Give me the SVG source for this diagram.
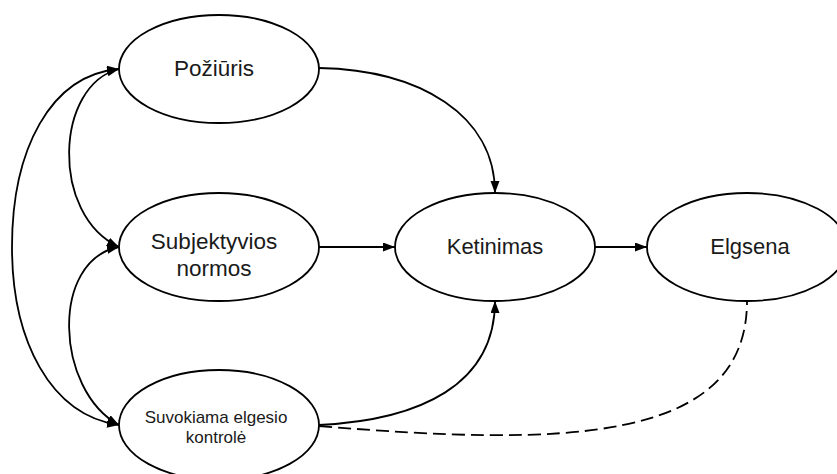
<svg xmlns="http://www.w3.org/2000/svg" width="837" height="474" viewBox="0 0 837 474">
<style>
.node ellipse{fill:#fff;stroke:#000;stroke-width:1.8}
.node text{font-family:"Liberation Sans",Arial,sans-serif;fill:#1a1a1a;text-anchor:middle}
.big{font-size:22px}
.mid{font-size:22.5px}
.small{font-size:17px}
.edge{fill:none;stroke:#000;stroke-width:1.8}
.dash{stroke-dasharray:13 6}
</style>
<defs>
<marker id="arr" markerUnits="userSpaceOnUse" markerWidth="14" markerHeight="10" refX="12" refY="4.5" orient="auto-start-reverse" viewBox="0 0 14 10">
<path d="M0,0 L12,4.5 L0,9 z" fill="#000"/>
</marker>
</defs>
<g id="connectors">
<path class="edge" d="M119,69 C50,75 12,150 12,247 C12,340 50,415 119,425" marker-start="url(#arr)" marker-end="url(#arr)"/>
<path class="edge" d="M119,69 C55,85 50,215 119,247" marker-start="url(#arr)" marker-end="url(#arr)"/>
<path class="edge" d="M119,247 C50,260 55,390 119,425" marker-start="url(#arr)" marker-end="url(#arr)"/>
<path class="edge" d="M319,68 C420,70 495,115 495,193" marker-end="url(#arr)"/>
<path class="edge" d="M319,247 L395,247" marker-end="url(#arr)"/>
<path class="edge" d="M595,247 L647,247" marker-end="url(#arr)"/>
<path class="edge" d="M319,425 C420,420 495,385 495,301" marker-end="url(#arr)"/>
<path class="edge dash" d="M319,426 C560,446 747,445 747,301"/>
</g>
<g id="poziuris" class="node">
<ellipse cx="219" cy="69" rx="100" ry="54"/>
<text class="mid" x="214" y="76">Požiūris</text>
</g>
<g id="subjektyvios" class="node">
<ellipse cx="219" cy="247" rx="100" ry="54"/>
<text class="mid" x="214" y="249">Subjektyvios</text>
<text class="mid" x="214" y="276">normos</text>
</g>
<g id="suvokiama" class="node">
<ellipse cx="219" cy="425" rx="100" ry="55"/>
<text class="small" x="216" y="423">Suvokiama elgesio</text>
<text class="small" x="216" y="443">kontrolė</text>
</g>
<g id="ketinimas" class="node">
<ellipse cx="495" cy="247" rx="100" ry="54"/>
<text class="big" x="495" y="254">Ketinimas</text>
</g>
<g id="elgsena" class="node">
<ellipse cx="747" cy="247" rx="100" ry="54"/>
<text class="big" x="750" y="254">Elgsena</text>
</g>
</svg>
